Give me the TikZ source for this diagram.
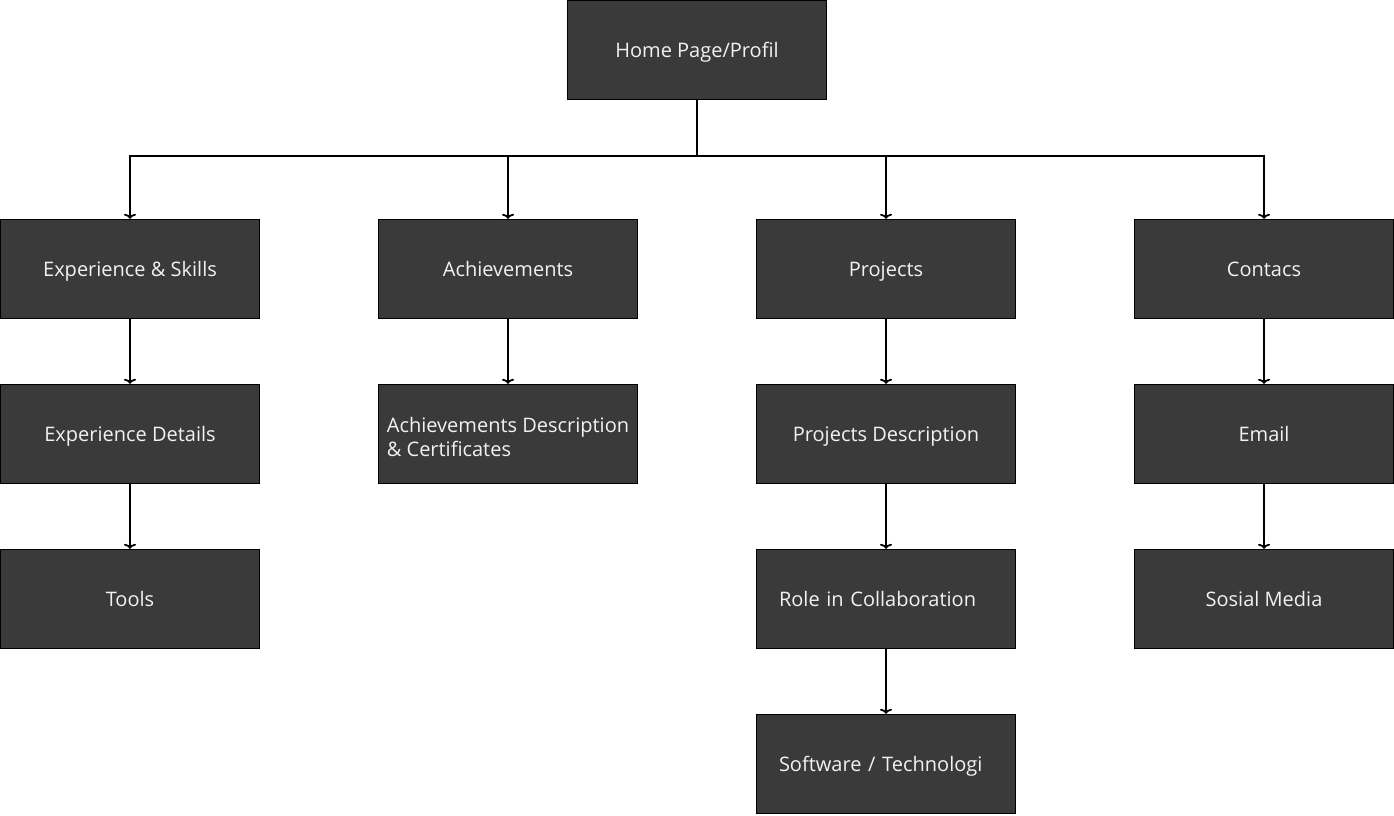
\documentclass[tikz,border=0pt]{standalone}
\usepackage{fontspec}
\setmainfont{Open Sans}
\usetikzlibrary{
    arrows.meta,
    calc,
    positioning
}
\definecolor{boxgray}{HTML}{3A3A3A}
\tikzset{pagebox/.style={draw=black, fill=boxgray, text=white!95!black, line width=1pt,
    minimum width=259.5pt, minimum height=99.5pt, inner sep=3pt,
    text height=14.4pt, text depth=0pt,
    font=\fontsize{20}{24}\selectfont}}
\tikzset{link/.style={line width=1.8pt, -{To[length=5pt, width=12pt]}}}

\begin{document}
\begin{tikzpicture}[x=1pt, y=-1pt]
    \useasboundingbox (0, 0) rectangle (1394, 815);
    \node[pagebox] (home) at (697, 50) {Home Page/Profil};
    % first level
    \node[pagebox] (exp) at (130, 269) {Experience \& Skills};
    \node[pagebox] (ach) at (508, 269) {Achievements};
    \node[pagebox] (proj) at (886, 269) {Projects};
    \node[pagebox] (cont) at (1264, 269) {Contacs};
    % second level
    \node[pagebox] (expd) at (130, 434) {Experience Details};
    \node[pagebox] (achd) at (508, 434)
        {\raisebox{-4pt}[0pt][0pt]{\begin{tabular}[c]{@{}l@{}}Achievements Description\\\& Certificates\end{tabular}}};
    \node[pagebox] (projd) at (886, 434) {Projects Description};
    \node[pagebox] (email) at (1264, 434) {Email};
    % third level
    \node[pagebox] (tools) at (130, 599) {Tools};
    \node[pagebox, text width=214pt, align=left] (role) at (886, 599) {Role in Collaboration};
    \node[pagebox] (sosial) at (1264, 599) {Sosial Media};
    \node[pagebox, text width=214pt, align=left] (soft) at (886, 764) {Software / Technologi};
    \coordinate (bus) at ($(home.south) + (0, 56)$);
    \draw[line width=1.8pt] (home.south) -- (bus);
    \foreach \n in {exp, ach, proj, cont}
        \draw[link] (bus) -| (\n.north);
    \draw[link] (exp) -- (expd);
    \draw[link] (expd) -- (tools);
    \draw[link] (ach) -- (achd);
    \draw[link] (proj) -- (projd);
    \draw[link] (projd) -- (role);
    \draw[link] (role) -- (soft);
    \draw[link] (cont) -- (email);
    \draw[link] (email) -- (sosial);
\end{tikzpicture}
\end{document}
